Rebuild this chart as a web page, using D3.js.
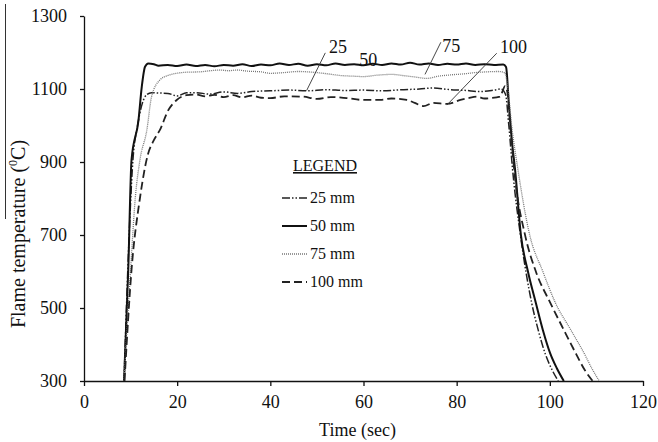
<!DOCTYPE html>
<html>
<head>
<meta charset="utf-8">
<script src="https://cdn.jsdelivr.net/npm/d3@7"></script>
<style>
  body { margin: 0; background: #fff; }
  text { font-family: "Liberation Serif", "Times New Roman", serif; fill: #111; }
</style>
</head>
<body>
<div id="chart"></div>
<script>
/* global d3 */

// [time (s), temperature (C)]
const mm25 = [
  [8.6, 300], [9.4, 604], [10.5, 905], [11.5, 1000], [12.5, 1060], [13.5, 1085], [14.5, 1090],
  [16, 1089], [18, 1088], [20, 1081], [22, 1090], [24, 1090], [27, 1086], [30, 1092], [33, 1088],
  [36, 1093], [40, 1095], [44, 1097], [48, 1095], [52, 1098], [56, 1096], [60, 1097], [64, 1095],
  [68, 1098], [72, 1100], [75, 1103], [78, 1099], [82, 1096], [85, 1093], [88, 1097], [89.5, 1100],
  [90.5, 1085], [91.2, 1000], [92, 880], [93.7, 699], [96.1, 514], [97.5, 440], [99, 375],
  [100.5, 330], [101.8, 300],
];

const mm50 = [
  [8.6, 300], [9.5, 604], [10.2, 905], [11.7, 1015], [12.4, 1106], [13.1, 1161], [13.8, 1170],
  [15, 1168], [16, 1164], [18, 1166], [20, 1163], [22, 1167], [24, 1163], [26, 1166], [28, 1162],
  [30, 1166], [32, 1164], [34, 1168], [36, 1163], [38, 1167], [40, 1165], [42, 1170], [44, 1166],
  [46, 1169], [48, 1164], [50, 1168], [52, 1165], [54, 1170], [56, 1166], [58, 1168], [60, 1165],
  [62, 1169], [64, 1166], [66, 1170], [68, 1167], [70, 1172], [72, 1167], [74, 1170], [76, 1166],
  [78, 1169], [80, 1167], [82, 1170], [84, 1166], [86, 1168], [88, 1166], [90, 1167], [90.6, 1160],
  [91.2, 1061], [91.9, 952], [92.5, 884], [93.8, 699], [95.3, 600], [97, 514], [98.5, 440],
  [100.1, 375], [101.5, 335], [103, 300],
];

const mm75 = [
  [8.6, 300], [10, 604], [11, 800], [12, 905], [13.5, 988], [14.5, 1079], [16.3, 1125], [18, 1137],
  [19.9, 1143], [22, 1146], [24.9, 1147], [27, 1150], [29.2, 1152], [31, 1150], [32.8, 1152],
  [35, 1149], [38, 1147], [40, 1143], [43, 1145], [46, 1148], [49, 1146], [52, 1142], [55, 1137],
  [58, 1135], [60, 1134], [63, 1138], [66, 1140], [69, 1136], [71, 1133], [73.6, 1129], [76, 1135],
  [79, 1139], [82, 1142], [84, 1145], [86.5, 1147], [89, 1148], [90.3, 1145], [91, 1100],
  [91.8, 1000], [93.1, 884], [95.7, 699], [98.5, 600], [101.2, 514], [104.5, 440], [107.4, 375],
  [109, 335], [110.6, 300],
];

const mm100 = [
  [8.7, 300], [10.2, 604], [12, 800], [13.7, 920], [15, 960], [16.3, 988], [18.1, 1042],
  [19.9, 1070], [22, 1083], [24, 1085], [26, 1080], [28, 1084], [30, 1078], [32, 1083], [34, 1077],
  [36, 1082], [38, 1076], [40, 1075], [43, 1080], [47, 1079], [50, 1073], [53, 1078], [56.4, 1075],
  [60, 1070], [63.6, 1070], [66, 1074], [69.3, 1070], [71, 1062], [72.9, 1053], [75, 1062],
  [77.9, 1059], [80.8, 1070], [82.5, 1075], [84.3, 1079], [86, 1074], [87.2, 1075], [89.3, 1079],
  [90.4, 1108], [90.9, 1090], [91.5, 1000], [92.5, 860], [94.7, 699], [97, 600], [100.1, 514],
  [103, 440], [105.6, 375], [107.5, 330], [109.2, 300],
];

const seriesNames = ['25 mm', '50 mm', '75 mm', '100 mm'];
const xTicks = [0, 20, 40, 60, 80, 100, 120];
const yTicks = [300, 500, 700, 900, 1100, 1300];

// callout labels: [text, label t, label temp, leader from, leader to]
const callouts = [
  ['25', 52.6, 1199, [51.8, 1199], [47.8, 1096]],
  ['50', 59.1, 1163, null, null],
  ['75', 76.9, 1201, [76.6, 1228], [73.2, 1140]],
  ['100', 89.3, 1199, [88.6, 1198], [77.9, 1056]],
];

const styles = [
  { dash: '8,2,1.5,2,1.5,2', width: 1.5, color: '#222' },
  { dash: null, width: 2, color: '#111' },
  { dash: '1,1', width: 1.3, color: '#777' },
  { dash: '8,4', width: 1.8, color: '#222' },
];

const W = 658;
const H = 442;
const margin = { top: 16, right: 15, bottom: 61, left: 84 };
const iw = W - margin.left - margin.right;
const ih = H - margin.top - margin.bottom;
const serif = '"Liberation Serif", "Times New Roman", serif';

const svg = d3.select('#chart')
  .append('svg')
  .attr('width', W)
  .attr('height', H);

const x = d3.scaleLinear().domain([0, 120]).range([0, iw]);
const y = d3.scaleLinear().domain([300, 1300]).range([ih, 0]);

const g = svg.append('g')
  .attr('transform', `translate(${margin.left},${margin.top})`);

const xAxis = g.append('g')
  .attr('transform', `translate(0,${ih})`)
  .call(d3.axisBottom(x).tickValues(xTicks).tickFormat(d3.format('d'))
    .tickSize(5).tickSizeOuter(0).tickPadding(9));

const yAxis = g.append('g')
  .call(d3.axisLeft(y).tickValues(yTicks).tickFormat(d3.format('d'))
    .tickSize(4).tickSizeOuter(0).tickPadding(13));

[xAxis, yAxis].forEach((a) => {
  a.attr('font-family', serif).attr('font-size', 18);
  a.select('.domain').attr('stroke', '#111').attr('stroke-width', 1.3);
  a.selectAll('.tick line').attr('stroke', '#111').attr('stroke-width', 1.3);
  a.selectAll('.tick text').attr('fill', '#111');
});

const line = d3.line()
  .x((d) => x(d[0]))
  .y((d) => y(d[1]))
  .curve(d3.curveMonotoneX);

[mm25, mm50, mm75, mm100].forEach((data, i) => {
  g.append('path')
    .datum(data)
    .attr('fill', 'none')
    .attr('stroke', styles[i].color)
    .attr('stroke-width', styles[i].width)
    .attr('stroke-dasharray', styles[i].dash)
    .attr('stroke-linejoin', 'round')
    .attr('d', line);
});

// callouts
callouts.forEach(([label, lt, lv, from, to]) => {
  g.append('text')
    .attr('x', x(lt))
    .attr('y', y(lv))
    .attr('font-size', 18)
    .text(label);
  if (from) {
    g.append('line')
      .attr('x1', x(from[0])).attr('y1', y(from[1]))
      .attr('x2', x(to[0])).attr('y2', y(to[1]))
      .attr('stroke', '#333')
      .attr('stroke-width', 0.9);
  }
});

// legend
const legend = svg.append('g').attr('transform', 'translate(282,171)');

legend.append('text')
  .attr('x', 11)
  .attr('y', 0)
  .attr('font-size', 16)
  .attr('text-decoration', 'underline')
  .text('LEGEND');

seriesNames.forEach((name, i) => {
  const ly = 32 + i * 28;
  legend.append('line')
    .attr('x1', 0).attr('x2', 25)
    .attr('y1', ly - 5).attr('y2', ly - 5)
    .attr('stroke', styles[i].color)
    .attr('stroke-width', styles[i].width)
    .attr('stroke-dasharray', styles[i].dash);
  legend.append('text')
    .attr('x', 28)
    .attr('y', ly)
    .attr('font-size', 16)
    .text(name);
});

// axis titles
svg.append('text')
  .attr('x', margin.left + iw / 2 - 6)
  .attr('y', 436)
  .attr('text-anchor', 'middle')
  .attr('font-size', 18)
  .text('Time (sec)');

const yTitle = svg.append('text')
  .attr('transform', 'translate(25,234) rotate(-90)')
  .attr('text-anchor', 'middle')
  .attr('font-size', 20);
yTitle.append('tspan').text('Flame temperature (');
yTitle.append('tspan').attr('font-size', 12).attr('dy', -8).text('0');
yTitle.append('tspan').attr('dy', 8).text('C)');

// stray rule at the far left of the original figure
svg.append('line')
  .attr('x1', 5.5).attr('x2', 5.5)
  .attr('y1', 4).attr('y2', 219)
  .attr('stroke', '#333')
  .attr('stroke-width', 1);
</script>
</body>
</html>
